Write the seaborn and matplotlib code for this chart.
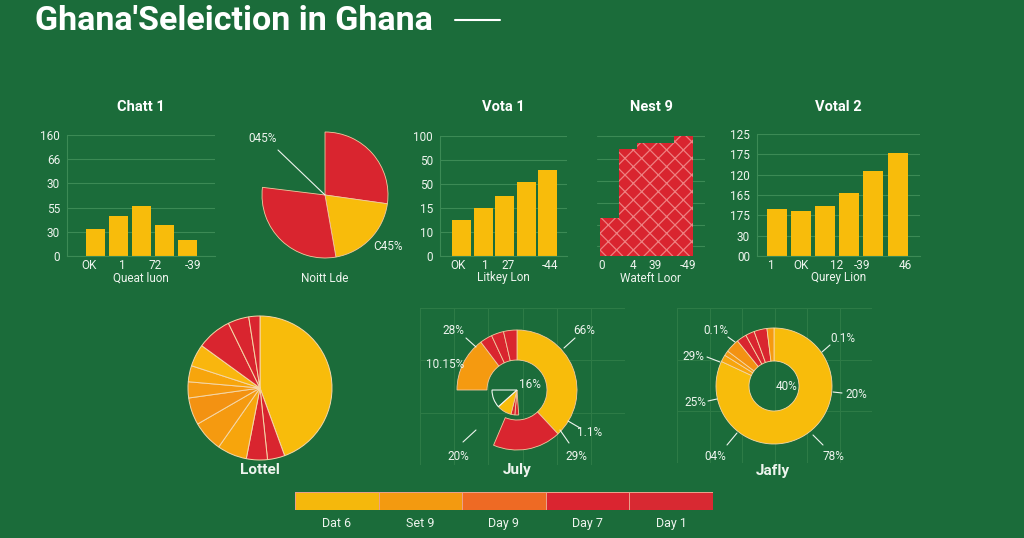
import numpy as np
import pandas as pd
import seaborn as sns
from matplotlib import pyplot as plt
from matplotlib.colors import ListedColormap
from matplotlib.lines import Line2D

# colours
BG = "#1b6c3a"
GRID = "#3c8a55"
TXT = "#eef4ee"
YEL = "#f8bc0b"
YEL2 = "#f9b60e"
ORA = "#f59a10"
ORA2 = "#f7a50c"
ORA3 = "#f39212"
RED = "#d9252f"

# --- data ---
chart1_vals = [1.12, 1.65, 2.07, 1.28, 0.66]
chart1_yticks = ["0", "30", "55", "30", "66", "160"]
chart1_xticks = ["OK", "1", "72", "-39"]

natel3_vals = [98, 72, 107, 83]
natel3_colors = [RED, YEL, RED, "none"]

vota1_vals = [1.5, 2.0, 2.5, 3.08, 3.6]
vota1_yticks = ["0", "10", "15", "50", "50", "100"]
vota1_xticks = ["OK", "1", "27", "-44"]

nest9_vals = [32, 89, 94, 94, 100]
nest9_grid = [8, 26, 44, 63, 81, 100]
nest9_xticks = ["0", "4", "39", "-49"]

votal2_vals = [2.3, 2.2, 2.46, 3.1, 4.2, 5.07]
votal2_yticks = ["00", "30", "175", "165", "120", "175", "125"]
votal2_xticks = ["1", "OK", "12", "-39", "46"]

lottel_vals = [160, 14, 17, 24, 25, 22, 13, 13, 18, 28, 17, 9]
lottel_colors = [YEL, RED, RED, ORA2, ORA, ORA3, ORA, ORA2, YEL2, RED, RED, RED]

july_outer_vals = [137, 66, 67, 53, 12, 12, 13]
july_outer_colors = [YEL, RED, "none", ORA, RED, RED, RED]
july_inner_vals = [176, 9, 9, 34, 42, 90]
july_inner_colors = ["none", RED, RED, YEL, "outline", "none"]

jafly_vals = [295, 7, 5, 14, 10, 9, 13, 7]
jafly_colors = [YEL, ORA2, ORA, ORA3, RED, RED, RED, ORA]

legend_labels = ["Dat 6", "Set 9", "Day 9", "Day 7", "Day 1"]
legend_colors = ["#f5b80c", "#f39a10", "#ee6a24", "#da2530", "#d82932"]

sns.set_style("white")
plt.rcParams["font.family"] = ["Roboto", "DejaVu Sans"]
plt.rcParams["hatch.linewidth"] = 0.9

W, H = 1024, 538
fig = plt.figure(figsize=(W / 100, H / 100), dpi=100, facecolor=BG)


def box(x0, y0, x1, y1):
    ax = fig.add_axes([x0 / W, 1 - y1 / H, (x1 - x0) / W, (y1 - y0) / H])
    ax.set_facecolor("none")
    return ax


def put(x, y, s, **kw):
    kw.setdefault("color", TXT)
    kw.setdefault("ha", "center")
    kw.setdefault("va", "center")
    fig.text(x / W, 1 - y / H, s, **kw)


def seg(x0, y0, x1, y1, lw=1.0, color=TXT):
    fig.add_artist(Line2D([x0 / W, x1 / W], [1 - y0 / H, 1 - y1 / H],
                          transform=fig.transFigure, color=color, lw=lw))


def bar_panel(rect, vals, xlim, ylim, yticks, ylabels, xpos, xlabels,
              title, xlabel, width=0.83, color=YEL):
    ax = box(*rect)
    df = pd.DataFrame({"pos": range(len(vals)), "val": vals})
    sns.barplot(data=df, x="pos", y="val", color=color, width=width,
                saturation=1, linewidth=0, ax=ax)
    ax.set_xlim(*xlim)
    ax.set_ylim(*ylim)
    ax.set_yticks(yticks)
    ax.set_yticklabels(ylabels)
    ax.set_xticks(xpos)
    ax.set_xticklabels(xlabels)
    ax.set_xlabel("")
    ax.set_ylabel("")
    ax.yaxis.grid(True, color=GRID, lw=0.8)
    ax.set_axisbelow(True)
    for s in ["top", "right"]:
        ax.spines[s].set_visible(False)
    for s in ["left", "bottom"]:
        ax.spines[s].set_color(GRID)
        ax.spines[s].set_linewidth(0.8)
    ax.tick_params(length=0, colors=TXT, labelsize=8.5)
    ax.tick_params(axis="y", pad=5)
    ax.tick_params(axis="x", pad=2)
    cx = (rect[0] + rect[2]) / 2
    put(cx, 107, title, fontsize=10.5, fontweight="bold", color="white")
    put(cx, 278, xlabel, fontsize=8.5)
    return ax


def pie_box(cx, cy, half):
    ax = box(cx - half, cy - half, cx + half, cy + half)
    return ax


def fix_limits(ax, half):
    ax.set_xlim(-half, half)
    ax.set_ylim(-half, half)
    ax.set_aspect("equal")
    ax.axis("off")


def clean(wedges, colors, edge):
    for w, c in zip(wedges, colors):
        if c == "none":
            w.set_facecolor("none")
            w.set_edgecolor("none")
        elif c == "outline":
            w.set_facecolor("none")
            w.set_edgecolor(edge)
            w.set_linewidth(0.8)


# title
put(35, 21, "Ghana'Seleiction in Ghana", ha="left", fontsize=24.5,
    fontweight="bold", color="white")
seg(455, 20, 500, 20, lw=1.5, color="white")

# Chatt 1
bar_panel((67, 135, 215, 256), chart1_vals, (-1.24, 5.2), (0, 5),
          range(6), chart1_yticks, [-0.28, 1.15, 2.59, 4.24], chart1_xticks,
          "Chatt 1", "Queat luon")

# Vota 1
bar_panel((440, 136, 567, 256), vota1_vals, (-1.0, 4.9), (0, 5),
          range(6), vota1_yticks, [-0.16, 1.09, 2.16, 4.1], vota1_xticks,
          "Vota 1", "Litkey Lon", width=0.88)

# Nest 9
ax = bar_panel((597, 135, 705, 256), nest9_vals, (-0.66, 5.14), (0, 101),
               nest9_grid, [""] * 6, [-0.39, 1.27, 2.46, 4.23], nest9_xticks,
               "Nest 9", "Wateft Loor", width=1.0, color=RED)
ax.spines["left"].set_visible(False)
ax.spines["bottom"].set_visible(False)
for p in ax.patches:
    p.set_hatch("xx")
    p.set_edgecolor("#ee8080")
    p.set_linewidth(0)

# Votal 2
bar_panel((757, 134, 920, 256), votal2_vals, (-0.83, 5.93), (0, 6),
          range(7), votal2_yticks, [-0.25, 1.0, 2.49, 3.53, 5.31], votal2_xticks,
          "Votal 2", "Qurey Lion")

# Natel 3 pie
ax = pie_box(325, 195, 80)
w, _ = ax.pie(natel3_vals, colors=natel3_colors, startangle=90, counterclock=False,
              radius=63, wedgeprops=dict(edgecolor="#f3c9a0", linewidth=0.6))
clean(w, natel3_colors, TXT)
fix_limits(ax, 80)
put(263, 139, "045%", fontsize=8.5)
seg(278, 150, 325, 195, lw=0.8)
put(388, 246, "C45%", fontsize=8.5)
put(325, 278, "Noitt Lde", fontsize=8.5)

# Lottel pie
ax = pie_box(260, 388, 80)
w, _ = ax.pie(lottel_vals, colors=lottel_colors, startangle=90, counterclock=False,
              radius=72, wedgeprops=dict(edgecolor="#f6d7a8", linewidth=0.7))
fix_limits(ax, 80)
put(260, 470, "Lottel", fontsize=11, fontweight="semibold")

# faint grids behind the two donuts
for (x0, y0, x1, y1) in [(420, 308, 625, 465), (677, 308, 872, 463)]:
    g = box(x0, y0, x1, y1)
    g.set_xlim(0, 6)
    g.set_ylim(0, 3)
    g.set_xticks(range(7))
    g.set_yticks(range(4))
    g.grid(True, color="#2e7c47", lw=0.7)
    g.tick_params(length=0, labelbottom=False, labelleft=False)
    for s in g.spines.values():
        s.set_visible(False)

# July donut
ax = pie_box(517, 390, 80)
w, _ = ax.pie(july_outer_vals, colors=july_outer_colors, startangle=90,
              counterclock=False, radius=60,
              wedgeprops=dict(width=30, edgecolor="#f3c9a0", linewidth=0.6))
clean(w, july_outer_colors, TXT)
w, _ = ax.pie(july_inner_vals,
              colors=[c if c != "outline" else "none" for c in july_inner_colors],
              startangle=90, counterclock=False, radius=25,
              wedgeprops=dict(edgecolor="#f3c9a0", linewidth=0.6))
clean(w, july_inner_colors, TXT)
fix_limits(ax, 80)
put(453, 330, "28%", fontsize=8.5)
seg(466, 338, 476, 347, lw=0.8)
put(584, 330, "66%", fontsize=8.5)
seg(575, 338, 564, 348, lw=0.8)
put(445, 364, "10.15%", fontsize=8.5)
put(530, 384, "16%", fontsize=8.5)
put(590, 432, "1.1%", fontsize=8.5)
seg(568, 421, 580, 428, lw=0.8)
put(576, 456, "29%", fontsize=8.5)
seg(560, 430, 569, 443, lw=0.8)
put(458, 456, "20%", fontsize=8.5)
seg(463, 442, 476, 430, lw=0.8)
put(517, 470, "July", fontsize=11, fontweight="semibold")

# Jafly donut
ax = pie_box(774, 386, 80)
w, _ = ax.pie(jafly_vals, colors=jafly_colors, startangle=90, counterclock=False,
              radius=58, wedgeprops=dict(width=33, edgecolor="#f6d7a8", linewidth=0.6))
fix_limits(ax, 80)
put(716, 330, "0.1%", fontsize=8.5)
seg(728, 337, 735, 342, lw=0.8)
put(843, 338, "0.1%", fontsize=8.5)
seg(822, 352, 830, 345, lw=0.8)
put(693, 357, "29%", fontsize=8.5)
seg(707, 357, 720, 362, lw=0.8)
put(787, 386, "40%", fontsize=8.5)
put(856, 394, "20%", fontsize=8.5)
seg(833, 392, 842, 393, lw=0.8)
put(695, 403, "25%", fontsize=8.5)
seg(708, 401, 717, 399, lw=0.8)
put(715, 456, "04%", fontsize=8.5)
seg(727, 445, 737, 433, lw=0.8)
put(833, 456, "78%", fontsize=8.5)
seg(823, 445, 813, 435, lw=0.8)
put(773, 471, "Jafly", fontsize=11, fontweight="semibold")

# colour key
ax = box(295, 492, 713, 510)
sns.heatmap(np.arange(len(legend_labels)).reshape(1, -1),
            cmap=ListedColormap(legend_colors), cbar=False,
            xticklabels=legend_labels, yticklabels=False,
            linewidths=0.6, linecolor="#e9a08a", ax=ax)
ax.tick_params(length=0, colors=TXT, labelsize=9, pad=5)

fig.savefig("out.png", dpi=100, facecolor=BG)
